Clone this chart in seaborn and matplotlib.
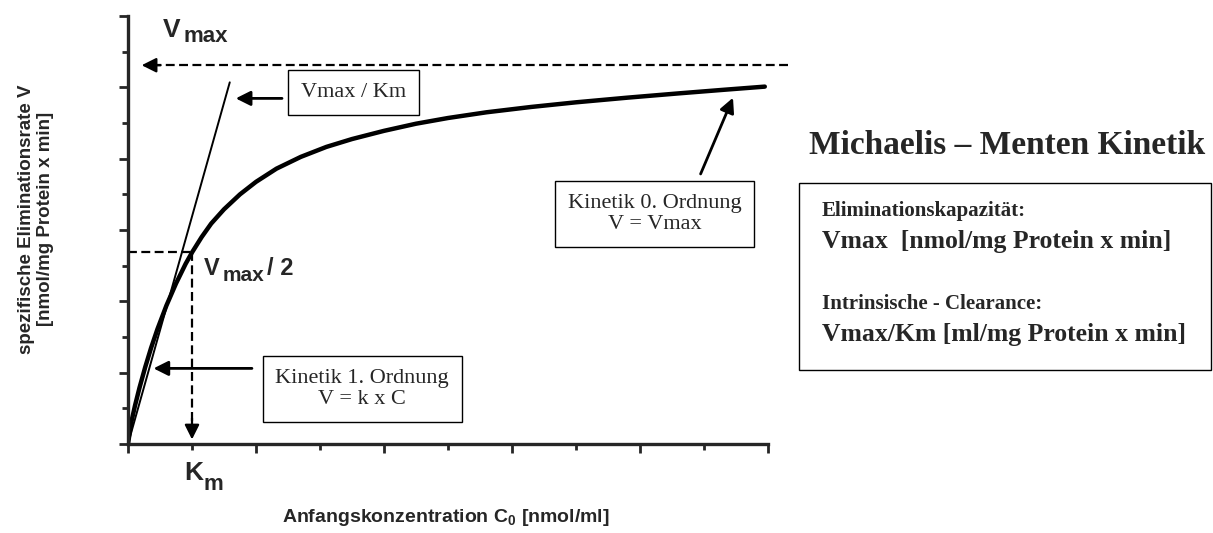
import numpy as np
import pandas as pd
import seaborn as sns
from matplotlib import pyplot as plt
from matplotlib.ticker import MultipleLocator

# curve (x in Km units, y in tick units)
conc = [0, 0.05, 0.11, 0.18, 0.27, 0.36, 0.46, 0.60, 0.75, 0.90, 1.00, 1.15,
        1.30, 1.50, 1.75, 2.00, 2.32, 2.70, 3.10, 3.50, 4.00, 4.50, 5.00, 5.60,
        6.30, 7.00, 7.80, 8.60, 9.30, 9.95]
rate = [0, 0.60, 1.08, 1.58, 2.16, 2.69, 3.22, 3.88, 4.50, 5.05, 5.37, 5.80,
        6.18, 6.58, 7.00, 7.35, 7.72, 8.05, 8.33, 8.55, 8.78, 8.98, 9.14, 9.30,
        9.45, 9.58, 9.71, 9.83, 9.93, 10.02]

vmax = 10.62
vmax_half = 5.37
km = 1.0
tangent_x = [0, 1.59]
tangent_y = [0, 10.14]

sns.set_style('ticks')
plt.rcParams['font.family'] = ['Liberation Sans', 'DejaVu Sans']
plt.rcParams['mathtext.fontset'] = 'custom'
plt.rcParams['mathtext.bf'] = 'Liberation Sans:bold'
plt.rcParams['mathtext.rm'] = 'Liberation Sans'

W, H = 1213, 533
fig = plt.figure(figsize=(W / 100, H / 100), dpi=100)
ax = fig.add_axes([128 / W, (H - 444) / H, 640 / W, 428 / H])

df = pd.DataFrame({'C0': conc, 'V': rate})
sns.lineplot(data=df, x='C0', y='V', ax=ax, color='black', lw=3.2, sort=False)
ax.plot(tangent_x, tangent_y, color='black', lw=1.4)

ax.set_xlim(0, 10)
ax.set_ylim(0, 12)
ax.set_xlabel('')
ax.set_ylabel('')
ax.xaxis.set_major_locator(MultipleLocator(2))
ax.xaxis.set_minor_locator(MultipleLocator(1))
ax.yaxis.set_major_locator(MultipleLocator(2))
ax.yaxis.set_minor_locator(MultipleLocator(1))
ax.tick_params(which='both', labelbottom=False, labelleft=False, width=2, direction='out')
ax.tick_params(which='major', length=6.5)
ax.tick_params(which='minor', length=4)
for s in ['top', 'right']:
    ax.spines[s].set_visible(False)
for s in ['left', 'bottom']:
    ax.spines[s].set_linewidth(2.4)
ax.set_facecolor('white')

dash = dict(color='black', lw=1.6, dashes=(4, 2))
head = dict(arrowstyle='-|>', color='black', lw=1.6, mutation_scale=22)
solid = dict(arrowstyle='-|>', color='black', lw=2, mutation_scale=22)

# Vmax dashed arrow
ax.plot([10.31, 0.4], [vmax, vmax], clip_on=False, **dash)
ax.annotate('', xy=(0.17, vmax), xytext=(0.55, vmax), arrowprops=head)
# Vmax/2 and Km
ax.plot([0, km], [vmax_half, vmax_half], **dash)
ax.plot([km, km], [vmax_half, 0.4], **dash)
ax.annotate('', xy=(km, 0.05), xytext=(km, 0.8), arrowprops=head)

box = dict(boxstyle='square,pad=0.58', fc='white', ec='black', lw=1)
serif = ['Liberation Serif', 'DejaVu Serif']

# Vmax / Km
ax.annotate('', xy=(1.64, 9.69), xytext=(2.45, 9.69), arrowprops=solid)
ax.text(3.53, 9.86, 'Vmax / Km', family=serif, fontsize=16, ha='center', va='center', bbox=box)

# Kinetik 1. Ordnung
ax.annotate('', xy=(0.355, 2.12), xytext=(1.98, 2.12), arrowprops=solid)
ax.text(3.66, 1.53, 'Kinetik 1. Ordnung\nV = k x C', family=serif, fontsize=16,
        ha='center', va='center', linespacing=1.15, bbox=box)

# Kinetik 0. Ordnung
ax.annotate('', xy=(9.47, 9.78), xytext=(8.93, 7.50), arrowprops=solid)
ax.text(8.23, 6.45, 'Kinetik 0. Ordnung\nV = Vmax', family=serif, fontsize=16,
        ha='center', va='center', linespacing=1.15, bbox=box)


def sub_label(x, y, main, sub, size, subsize, dx, dy, tail=None, tdx=0):
    ax.annotate(main, xy=(x, y), ha='left', va='baseline', fontsize=size,
                fontweight='bold', annotation_clip=False)
    ax.annotate(sub, xy=(x, y), xytext=(dx, dy), textcoords='offset points',
                ha='left', va='baseline', fontsize=subsize, fontweight='bold',
                annotation_clip=False)
    if tail:
        ax.annotate(tail, xy=(x, y), xytext=(tdx, 0), textcoords='offset points',
                    ha='left', va='baseline', fontsize=size, fontweight='bold',
                    annotation_clip=False)


sub_label(0.547, 11.41, 'V', 'max', 19, 16, 14.4, -3.8)
sub_label(1.19, 4.75, 'V', 'max', 17, 15, 13.5, -4.5, tail='/ 2', tdx=45)
sub_label(0.875, -1.01, 'K', 'm', 19, 16, 13.7, -7.2)

# axis titles
fig.text(446 / W, 1 - 518 / H, r'Anfangskonzentration C$_\mathbf{0}$ [nmol/ml]',
         fontsize=14, fontweight='bold', ha='center', va='center')
fig.text(36 / W, 1 - 219 / H, 'spezifische Eliminationsrate V\n[nmol/mg Protein x min]',
         fontsize=13.5, fontweight='bold', ha='center', va='center', rotation=90,
         linespacing=1.2)

# right side text
fig.text(809 / W, 1 - 146 / H, 'Michaelis \u2013 Menten Kinetik', family=serif,
         fontsize=24, fontweight='bold', ha='left', va='center')
info = [('Eliminationskapazit\u00e4t:', 211, 15),
        ('Vmax  [nmol/mg Protein x min]', 242, 18.5),
        ('Intrinsische - Clearance:', 304, 15),
        ('Vmax/Km [ml/mg Protein x min]', 335, 18.5)]
for txt, ypx, fs in info:
    fig.text(822 / W, 1 - ypx / H, txt, family=serif, fontsize=fs,
             fontweight='bold', ha='left', va='center')
fig.add_artist(plt.Rectangle((799 / W, 1 - 370 / H), (W - 2 - 799) / W, (370 - 183) / H,
                             transform=fig.transFigure, fill=False, ec='black', lw=1))

fig.savefig('out.png', dpi=100, facecolor='white')
